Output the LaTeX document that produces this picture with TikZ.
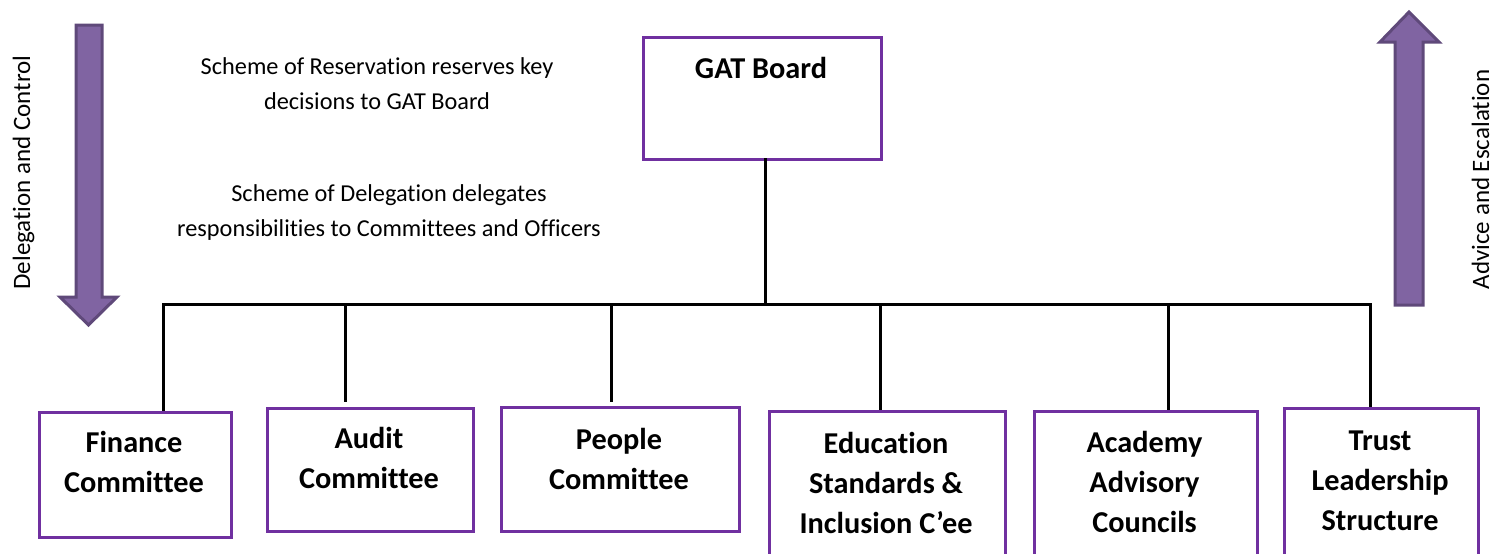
\documentclass[tikz,border=0pt]{standalone}
\usepackage{fontspec}
\setmainfont{Carlito}[Ligatures=NoCommon]
\definecolor{boxpurple}{HTML}{7030A0}
\definecolor{arrowfill}{HTML}{8064A2}
\definecolor{arrowedge}{HTML}{5F497A}
\begin{document}
\begin{tikzpicture}[x=1pt,y=-1pt,
  unitbox/.style={draw=boxpurple, line width=3pt, anchor=north west, inner sep=0pt, fill=white},
  unittext/.style={font=\fontsize{30.3}{40}\selectfont\bfseries, align=center, anchor=base, inner sep=0pt},
  note/.style={font=\fontsize{24.3}{34.5}\selectfont, align=center, anchor=base, inner sep=0pt},
  sidelabel/.style={font=\fontsize{25}{30}\selectfont, rotate=90, anchor=base, inner sep=0pt},
  link/.style={draw=black, line width=3pt},
  bigarrow/.style={draw=arrowedge, fill=arrowfill, line width=3pt, line join=miter}
]
\useasboundingbox (0,0) rectangle (1494,554);
\clip (0,0) rectangle (1494,554);

% side arrows
\draw[bigarrow] (76,25) -- (102,25) -- (102,297) -- (117,297) -- (88.5,325) -- (60,297) -- (76,297) -- cycle;
\draw[bigarrow] (1395,305) -- (1423,305) -- (1423,42) -- (1439,42) -- (1409,12) -- (1380,42) -- (1395,42) -- cycle;

\node[sidelabel] (dc) at (30,172.5) {Delegation and Control};
\node[sidelabel] (ae) at (1489,179.5) {Advice and Escalation};

% notes (base anchor = last line)
\node[note] (res) at (377,109) {Scheme of Reservation reserves key\\decisions to GAT Board};
\node[note] (del) at (389,236) {Scheme of Delegation delegates\\responsibilities to Committees and Officers};

% board
\node[unitbox, minimum width=238pt, minimum height=122pt] (gat) at (642,36) {};
\node[unittext] (gatt) at (761,78) {GAT Board};

% committees
\node[unitbox, minimum width=192pt, minimum height=125pt] (fin) at (38,411) {};
\node[unitbox, minimum width=206pt, minimum height=123pt] (aud) at (266,407) {};
\node[unitbox, minimum width=238pt, minimum height=124pt] (peo) at (500,406) {};
\node[unitbox, minimum width=236pt, minimum height=200pt] (edu) at (768,410) {};
\node[unitbox, minimum width=223pt, minimum height=200pt] (aca) at (1033,410) {};
\node[unitbox, minimum width=194pt, minimum height=200pt] (tru) at (1283,407) {};

\node[unittext] (fint) at (134,492) {Finance\\Committee};
\node[unittext] (audt) at (369,488) {Audit\\Committee};
\node[unittext] (peot) at (619,489) {People\\Committee};
\node[unittext] (edut) at (886,533) {Education\\Standards \&\\Inclusion C’ee};
\node[unittext] (acat) at (1144.5,532) {Academy\\Advisory\\Councils};
\node[unittext] (trut) at (1380,530) {Trust\\Leadership\\Structure};

% connectors
\coordinate (top) at (765,158);
\coordinate (hub) at (765,304);
\coordinate (busL) at (163,304);
\coordinate (busR) at (1370,304);
\coordinate (dFin) at (163,304);
\coordinate (dAud) at (345,304);
\coordinate (dPeo) at (611,304);
\coordinate (dEdu) at (880,304);
\coordinate (dAca) at (1168,304);
\coordinate (dTru) at (1370,304);
\coordinate (eAud) at (345,402);

\draw[link] (top) -- (hub);
\draw[link, line cap=rect] (busL) -- (busR);
\draw[link] (dFin) -- (dFin |- fin.north);
\draw[link] (dAud) -- (eAud);
\draw[link] (dPeo) -- ([yshift=4pt]dPeo |- peo.north);
\draw[link] (dEdu) -- (dEdu |- edu.north);
\draw[link] (dAca) -- (dAca |- aca.north);
\draw[link] (dTru) -- (dTru |- tru.north);
\end{tikzpicture}
\end{document}
